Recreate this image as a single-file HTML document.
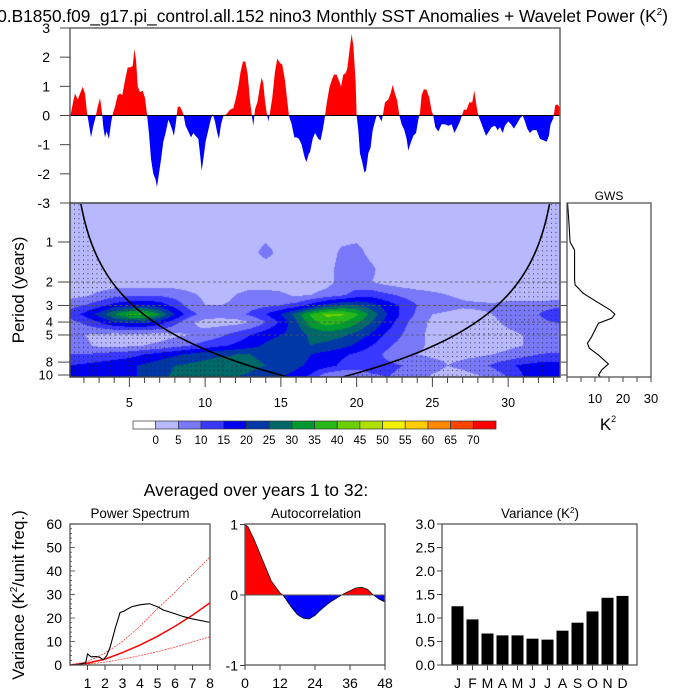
<!DOCTYPE html>
<html><head><meta charset="utf-8">
<style>
html,body{margin:0;padding:0;background:#fff;}
#wrap{position:relative;width:700px;height:700px;overflow:hidden;font-family:"Liberation Sans",sans-serif;}
#wv{position:absolute;left:70px;top:203px;}
#svg{position:absolute;left:0;top:0;}
text{font-family:"Liberation Sans",sans-serif;fill:#000;}
</style></head>
<body>
<div id="wrap">
<canvas id="wv" width="490" height="174"></canvas>
<svg id="svg" width="700" height="700" xmlns="http://www.w3.org/2000/svg">
<defs>
<pattern id="dots" width="4.5" height="4.6" patternUnits="userSpaceOnUse"><rect x="2" y="2" width="0.9" height="0.9" fill="#222"/></pattern>
<clipPath id="clipAbove"><rect x="70" y="20" width="490" height="95.5"/></clipPath>
<clipPath id="clipBelow"><rect x="70" y="115.5" width="490" height="95"/></clipPath>
<clipPath id="acAbove"><rect x="245" y="520" width="140" height="75"/></clipPath>
<clipPath id="acBelow"><rect x="245" y="595" width="140" height="75"/></clipPath>
<clipPath id="wvClip"><rect x="70" y="203" width="490" height="174"/></clipPath>
</defs>
<text x="668" y="22" font-size="17.3" text-anchor="end">0.B1850.f09_g17.pi_control.all.152 nino3 Monthly SST Anomalies + Wavelet Power (K<tspan font-size="10" dy="-7">2</tspan><tspan dy="7">)</tspan></text>
<g id="top"></g>
<g id="wav"></g>
<g id="gws"></g>
<g id="cbar"></g>
<text x="256" y="496" font-size="17.5" text-anchor="middle">Averaged over years 1 to 32:</text>
<g id="ps"></g>
<g id="ac"></g>
<g id="vr"></g>
</svg>
</div>
<script>
// ---------- DATA ----------
const sstYears = [1.08,1.15,1.30,1.41,1.59,1.74,1.92,2.07,2.20,2.33,2.47,2.62,2.77,2.91,3.06,3.17,3.28,3.39,3.50,3.65,3.79,3.90,4.05,4.23,4.38,4.53,4.71,4.89,5.06,5.22,5.33,5.44,5.55,5.70,5.88,6.03,6.16,6.29,6.43,6.58,6.73,6.82,6.95,7.09,7.24,7.39,7.57,7.70,7.83,7.94,8.08,8.19,8.34,8.49,8.58,8.71,8.89,9.07,9.22,9.37,9.55,9.68,9.77,9.88,10.03,10.21,10.39,10.50,10.65,10.80,10.91,11.05,11.20,11.42,11.64,11.86,12.01,12.19,12.34,12.50,12.65,12.81,12.96,13.07,13.18,13.29,13.47,13.62,13.73,13.84,13.95,14.06,14.17,14.28,14.43,14.61,14.76,14.94,15.09,15.27,15.42,15.53,15.71,15.89,16.04,16.19,16.37,16.55,16.68,16.85,16.92,17.10,17.25,17.47,17.62,17.76,17.89,18.02,18.20,18.35,18.50,18.68,18.83,18.97,19.12,19.27,19.38,19.52,19.67,19.78,19.93,20.00,20.11,20.22,20.37,20.51,20.62,20.77,20.92,21.06,21.21,21.32,21.43,21.54,21.65,21.76,21.87,22.09,22.24,22.38,22.53,22.68,22.82,22.97,23.15,23.30,23.41,23.56,23.74,23.92,24.07,24.18,24.29,24.44,24.62,24.80,24.95,25.06,25.19,25.39,25.61,25.83,26.05,26.27,26.45,26.60,26.82,26.95,27.08,27.26,27.44,27.63,27.77,27.92,28.03,28.18,28.36,28.54,28.73,28.91,29.13,29.31,29.46,29.64,29.79,30.01,30.19,30.38,30.56,30.78,30.96,31.11,31.26,31.44,31.62,31.88,32.10,32.32,32.54,32.69,32.80,32.98,33.11,33.24,33.38,33.45];
const sstAnom = [0,0.1,0.5,0.75,0.55,0.75,0.98,0.75,0.1,-0.3,-0.75,-0.35,-0.05,0.3,0.6,0.2,-0.4,-0.75,-0.55,-0.8,-0.25,0.05,0.3,0.7,0.75,0.7,1.2,1.65,1.65,1.7,2.27,1.9,1.0,0.8,0.85,0.6,0.05,-0.6,-1.5,-2.0,-2.2,-2.45,-2.0,-1.5,-0.9,-0.6,-0.15,-0.3,-0.5,-0.7,-0.2,0.3,0.3,0.15,0,-0.35,-0.55,-0.75,-0.6,-0.7,-0.8,-1.4,-1.9,-1.5,-0.9,-0.5,-0.1,0.05,-0.2,-0.6,-0.8,-0.3,-0.02,0.05,0.2,0.25,0.55,1.0,1.5,1.85,1.85,1.4,0.5,0.05,-0.35,0.2,0.5,1.0,1.3,1.1,0.5,0.1,-0.2,0.1,0.6,1.5,1.95,1.8,1.75,1.2,0.5,0,-0.3,-0.75,-0.75,-0.8,-1.0,-1.4,-1.6,-1.3,-1.26,-0.8,-0.6,-0.8,-0.85,-0.5,-0.1,0.4,0.95,1.2,1.4,1.4,1.2,1.0,1.4,1.45,1.6,2.2,2.8,2.4,1.2,0,-0.5,-1.3,-1.6,-1.95,-1.9,-1.3,-1.1,-0.5,-0.2,0.0,0.03,-0.1,-0.2,0.1,0.45,0.55,0.75,1.05,0.75,0.5,0,-0.3,-0.5,-0.8,-1.2,-0.95,-0.7,-0.6,-0.15,0.1,0.7,0.9,0.88,0.6,0.15,0,-0.4,-0.55,-0.3,-0.3,-0.35,-0.3,-0.6,-0.45,-0.2,0,0.2,0.2,0.45,0.45,0.85,0.3,0,-0.2,-0.45,-0.7,-0.55,-0.4,-0.35,-0.5,-0.4,-0.6,-0.35,-0.2,-0.3,-0.45,-0.3,-0.1,0,-0.2,-0.45,-0.6,-0.5,-0.5,-0.8,-0.85,-0.9,-0.7,-0.3,-0.1,0.35,0.38,0.3,0.3];
const topTicks = [3,2,1,0,-1,-2,-3];

const wvYears = [1,2,3,4,5,6,7,8,9,10,11,12,13,14,15,16,17,18,19,20,21,22,23,24,25,26,27,28,29,30,31,32,33,34];
const wvPeriods = [0.5,0.8,1.2,1.6,2.0,2.5,3.0,3.5,4.0,5.0,6.0,7.0,8.5,10.5];
const wvP05 = Array(34).fill(2);
const wvP08 = Array(34).fill(2);
const wvP12 = [2,2,2,2,2,2,2,2,2,2,2,2,3,7,3,2,2,2,6,7,3,2,2,2,2,2,2,2,2,2,2,2,2,2];
const wvP16 = [2,2,2,2,2,2,2,2,2,2,2,2,2,2,2,2,2,3,7,9,6,2,2,2,2,2,2,2,2,2,2,2,2,2];
const wvP20 = [2,2,2,2,2,2,2,2,2,2,2,2,2,2,2,2,2,3,7,7,5,3,2,2,2,2,2,2,2,2,2,2,2,2];
const wvP25 = [3,4,6,8,9,9,9,8,6,4,3,5,7,7,6,4,5,7,9,12,13,11,9,7,6,5,4,3,2,2,2,2,2,2];
const wvP30 = [8,10,13,17,19,20,18,13,8,5,5,6,8,9,10,12,17,22,25,25,22,18,14,10,8,7,6,6,6,7,7,7,8,9];
const wvP35 = [12,16,22,30,36,37,30,20,12,8,7,8,11,15,20,27,36,41,41,36,28,20,14,9,5,4,3,4,5,7,8,10,14,16];
const wvP40 = [8,11,15,20,22,22,18,12,6,3,3,3,5,10,16,24,33,38,36,31,25,18,12,7,4,3,3,3,4,6,7,8,10,11];
const wvP50 = [6,5,4,3,3,3,3,4,5,7,9,12,15,18,20,22,26,27,26,23,19,14,10,6,4,3,3,3,3,4,5,6,7,7];
const wvP60 = [7,6,4,4,4,5,6,8,10,12,14,16,18,21,23,24,25,24,22,19,15,11,8,6,4,3,3,3,3,4,5,6,6,6];
const wvP70 = [10,10,11,12,13,15,17,19,21,23,24,25,25,24,23,22,20,18,16,14,12,9,7,5,4,4,4,4,5,6,8,10,11,11];
const wvP85 = [15,16,17,18,19,21,23,25,26,27,28,27,26,25,23,21,19,17,14,12,12,11,10,9,7,5,6,8,11,14,16,17,17,17];
const wvP105 = [18,18,18,18,19,21,24,26,27,27,26,25,24,22,20,18,13,5,4,6,9,10,9,7,4,3,3,4,6,10,15,17,17,17];
const wvRows = [wvP05,wvP08,wvP12,wvP16,wvP20,wvP25,wvP30,wvP35,wvP40,wvP50,wvP60,wvP70,wvP85,wvP105];
const cbarLabels = [0,5,10,15,20,25,30,35,40,45,50,55,60,65,70];

const gwsPeriods = [0.51,0.72,1.0,1.15,1.93,2.1,2.43,2.81,3.24,3.49,3.74,4.09,4.59,5.15,5.78,6.3,7.07,8.26,9.15,10.0,10.3];
const gwsPower = [0.2,0.7,1.1,2.7,2.7,2.9,5.8,10.6,15.4,17.1,16,11.2,10,8.8,7.3,8,11.2,14.8,12.4,11.3,11.8];

const psFreq = [0,0.5,0.9,1.0,1.2,1.5,1.7,1.9,2.1,2.3,2.6,2.86,3.1,3.52,4.0,4.53,5.0,5.33,6.0,6.48,7.0,7.97,8];
const psPower = [0,0.2,1,4.7,3.5,3.6,3.3,2.2,4,7.8,16,22.3,23,24.8,25.6,26.1,24.8,23.4,21.8,20.6,19.6,18.2,18.1];
const psRedX = [0,1,2,3,4,5,6,7,8];
const psRed = [0,0.8,2.5,5.3,8.5,12.2,16.5,21.2,26.5];
const psRedHi = [0,1.5,5,10,16.5,24,31,38.5,46];
const psRedLo = [0,0.4,1.2,2.5,4,5.7,7.6,9.8,12];
const psYTicks = [0,10,20,30,40,50,60];
const psXTicks = [1,2,3,4,5,6,7,8];

const acLags = [0,1,3,6,9,12,13,16,18,20,22,24,26,28,30,32,34,36,38,40,42,44,46,48];
const acVals = [1,0.97,0.8,0.5,0.2,0.03,0,-0.18,-0.28,-0.33,-0.34,-0.29,-0.21,-0.14,-0.08,-0.03,0.02,0.06,0.1,0.11,0.08,0,-0.06,-0.1];
const acXTicks = [0,12,24,36,48];
const acYTicks = [1,0,-1];

const months = ["J","F","M","A","M","J","J","A","S","O","N","D"];
const monthVar = [1.25,0.97,0.67,0.63,0.63,0.56,0.54,0.73,0.9,1.14,1.43,1.47];
const varTicks = ["0.0","0.5","1.0","1.5","2.0","2.5","3.0"];

const levelColors = ["#ffffff","#b8b8ff","#7878f8","#3838ff","#0000f0","#0038a8","#006868","#009830","#28b818","#6cd000","#b0e000","#f0f000","#ffcc00","#ff8800","#ff4400","#ff0000"];

// ---------- HELPERS ----------
const NS="http://www.w3.org/2000/svg";
function mk(parent,tag,attrs){const e=document.createElementNS(NS,tag);for(const k in attrs)e.setAttribute(k,attrs[k]);parent.appendChild(e);return e;}
function txt(parent,x,y,s,size,anchor){const t=mk(parent,"text",{x:x,y:y,"font-size":size,"text-anchor":anchor||"middle"});t.textContent=s;return t;}
const AX="#444";

// ---------- TOP SERIES ----------
const tx=t=>70+(t-1.08)*15.15;
const ty=v=>115.5-v*29.17;
(function(){
 const g=document.getElementById("top");
 let d="M"+tx(sstYears[0])+","+ty(0);
 for(let i=0;i<sstYears.length;i++) d+=" L"+tx(sstYears[i]).toFixed(2)+","+ty(sstAnom[i]).toFixed(2);
 d+=" L"+tx(sstYears[sstYears.length-1])+","+ty(0)+" Z";
 const r=mk(g,"path",{d:d,fill:"#ff0000","clip-path":"url(#clipAbove)"});
 
 
 const b=mk(g,"path",{d:d,fill:"#0000ff","clip-path":"url(#clipBelow)"});
 
 
 const z=mk(g,"line",{x1:70,x2:560,y1:ty(0),y2:ty(0),stroke:"#000","stroke-width":1});
 
 
 const box=mk(g,"path",{d:"M70,203 L70,28 L560,28 L560,203",fill:"none",stroke:"#666","stroke-width":1.5});
 
 
 topTicks.forEach(v=>{
  mk(g,"line",{x1:60,x2:70,y1:ty(v),y2:ty(v),stroke:AX,"stroke-width":1});
  const t=txt(g,50,ty(v)+5,String(v),14,"end");
  
  
 });
})();

// ---------- WAVELET ----------
const wy=p=>242+133*Math.log10(p);
const wx=t=>70+(t-1.08)*15.15;
(function(){
 const c=document.getElementById("wv").getContext("2d");
 const img=c.createImageData(490,174);
 const rowsLog=wvPeriods.map(p=>Math.log10(p));
 const rgb=levelColors.map(h=>[parseInt(h.substr(1,2),16),parseInt(h.substr(3,2),16),parseInt(h.substr(5,2),16)]);
 for(let py=0;py<174;py++){
  const lp=((203+py+0.5)-242)/133;
  let r=0;while(r<rowsLog.length-2&&rowsLog[r+1]<lp)r++;
  let fr=(lp-rowsLog[r])/(rowsLog[r+1]-rowsLog[r]);fr=Math.max(0,Math.min(1,fr));
  for(let px=0;px<490;px++){
   const yr=1.08+(px+0.5)/15.15;
   let ci=yr-wvYears[0];ci=Math.max(0,Math.min(wvYears.length-1.0001,ci));
   const c0=Math.floor(ci),fc=ci-c0;
   const v00=wvRows[r][c0],v01=wvRows[r][c0+1],v10=wvRows[r+1][c0],v11=wvRows[r+1][c0+1];
   const v=(v00*(1-fc)+v01*fc)*(1-fr)+(v10*(1-fc)+v11*fc)*fr;
   let lv=v<0?0:Math.min(15,Math.floor(v/5)+1);
   const k=(py*490+px)*4,col=rgb[lv];
   img.data[k]=col[0];img.data[k+1]=col[1];img.data[k+2]=col[2];img.data[k+3]=255;
  }
 }
 c.putImageData(img,0,0);

 const g=document.getElementById("wav");
 const coi=t=>0.72*Math.min(t-1.08,33.45-t);
 let pts=[];
 for(let t=1.08;t<=33.45+1e-6;t+=0.05){let p=coi(t);let y=p<=0.01?203:wy(p);y=Math.max(203,Math.min(377,y));pts.push([wx(t),y]);}
 let d="M70,203 L560,203 L560,377 L70,377 Z M"+pts.map(p=>p[0].toFixed(2)+","+p[1].toFixed(2)).join(" L")+" Z";
 const st=mk(g,"path",{d:d,fill:"url(#dots)","fill-rule":"evenodd","clip-path":"url(#wvClip)"});
 
 
 [2,3,4,5].forEach(p=>{
  const l=mk(g,"line",{x1:70,x2:560,y1:wy(p),y2:wy(p),stroke:"#555","stroke-width":0.8,"stroke-dasharray":"3,2.5"});
  
  
 });
 let cd="",on=false;
 for(let t=1.08;t<=33.45+1e-6;t+=0.03){const p=coi(t);const y=p>0.01?wy(p):0;
  if(p>0.01&&y>=203&&y<=377){cd+=(on?" L":" M")+wx(t).toFixed(2)+","+y.toFixed(2);on=true;}else on=false;}
 const cl=mk(g,"path",{d:cd,fill:"none",stroke:"#000","stroke-width":1.6});
 
 
 const fr=mk(g,"rect",{x:70,y:203,width:490,height:174,fill:"none",stroke:"#444","stroke-width":1.5});
 
 
 [1,2,3,4,5,8,10].forEach(p=>{
  mk(g,"line",{x1:58,x2:70,y1:wy(p),y2:wy(p),stroke:AX,"stroke-width":1});
  const t=txt(g,53,wy(p)+4.5,String(p),13,"end");
  
  
 });
 for(let yr=2;yr<=33;yr++){
  const major=yr%5===0;
  mk(g,"line",{x1:wx(yr),x2:wx(yr),y1:377,y2:major?387:383,stroke:AX,"stroke-width":1});
  if(major){const t=txt(g,wx(yr),407,String(yr),12.5,"middle");
   
   }
 }
 const yl=mk(g,"text",{x:0,y:0,"font-size":17,"text-anchor":"middle",transform:"translate(24,290) rotate(-90)"});
 yl.textContent="Period (years)";
 
 
})();

// ---------- GWS ----------
(function(){
 const g=document.getElementById("gws");
 const gx=v=>567+v*2.8;
 let d=gwsPeriods.map((p,i)=>(i?"L":"M")+gx(gwsPower[i]).toFixed(2)+","+Math.min(377,wy(p)).toFixed(2)).join(" ");
 const l=mk(g,"path",{d:d,fill:"none",stroke:"#000","stroke-width":1.1});
 
 
 const fr=mk(g,"rect",{x:567,y:203,width:84,height:174,fill:"none",stroke:"#555","stroke-width":1.3});
 
 
 [1,2,3,4,5,8,10].forEach(p=>mk(g,"line",{x1:561,x2:567,y1:wy(p),y2:wy(p),stroke:AX}));
 for(let v=0;v<=30;v+=5)mk(g,"line",{x1:gx(v),x2:gx(v),y1:377,y2:382,stroke:AX});
 [10,20,30].forEach(v=>{const t=txt(g,gx(v),403,String(v),13,"middle");
  
  });
 const tt=txt(g,609,200,"GWS",12,"middle");
 
 
 const k=mk(g,"text",{x:608,y:430,"font-size":17,"text-anchor":"middle"});
 k.innerHTML='K<tspan font-size="9" dy="-8">2</tspan>';
 
 
})();

// ---------- COLORBAR ----------
(function(){
 const g=document.getElementById("cbar");
 const w=363/levelColors.length;
 levelColors.forEach((c,i)=>{
  const r=mk(g,"rect",{x:133+i*w,y:421,width:w,height:8,fill:c,stroke:"#333","stroke-width":0.7});
  
  
 });
 cbarLabels.forEach((v,i)=>{const t=txt(g,133+(i+1)*w,444,String(v),11.5,"middle");
  
  });
})();

// ---------- POWER SPECTRUM ----------
(function(){
 const g=document.getElementById("ps");
 const px=f=>70+f*17.5, py=v=>665-v*2.35;
 const line=(xs,ys,attrs,name)=>{const d=xs.map((x,i)=>(i?"L":"M")+px(x).toFixed(2)+","+py(ys[i]).toFixed(2)).join(" ");
  const p=mk(g,"path",Object.assign({d:d,fill:"none"},attrs));};
 line(psRedX,psRedHi,{stroke:"#ff4040","stroke-width":0.8,"stroke-dasharray":"2,1"},"ps-red-noise-upper");
 line(psRedX,psRedLo,{stroke:"#ff4040","stroke-width":0.8,"stroke-dasharray":"2,1"},"ps-red-noise-lower");
 line(psRedX,psRed,{stroke:"#ff0000","stroke-width":1.5},"ps-red-noise");
 line(psFreq,psPower,{stroke:"#000","stroke-width":1.1},"ps-spectrum-line");
 const fr=mk(g,"rect",{x:70,y:524,width:140,height:141,fill:"none",stroke:"#555","stroke-width":1.3});
 
 
 for(let v=0;v<=60;v+=2)mk(g,"line",{x1:70,x2:v%10===0?75:72,y1:py(v),y2:py(v),stroke:AX,"stroke-width":0.8});
 psYTicks.forEach(v=>{const t=txt(g,62,py(v)+5,String(v),14,"end");
  });
 psXTicks.forEach(v=>{mk(g,"line",{x1:px(v),x2:px(v),y1:665,y2:670,stroke:AX});
  const t=txt(g,px(v),688,String(v),14,"middle");
  });
 const tt=txt(g,140,518,"Power Spectrum",13.4,"middle");
 
 const yl=mk(g,"text",{x:0,y:0,"font-size":17,"text-anchor":"middle",transform:"translate(24,595) rotate(-90)"});
 yl.innerHTML='Variance (K<tspan font-size="10" dy="-7">2</tspan><tspan dy="7">/unit freq.)</tspan>';
 
})();

// ---------- AUTOCORRELATION ----------
(function(){
 const g=document.getElementById("ac");
 const ax=l=>245+l*140/48, ay=v=>595-v*70.5;
 let d="M"+ax(0)+","+ay(0)+" "+acLags.map((l,i)=>"L"+ax(l).toFixed(2)+","+ay(acVals[i]).toFixed(2)).join(" ")+" L"+ax(48)+","+ay(0)+" Z";
 const r=mk(g,"path",{d:d,fill:"#ff0000","clip-path":"url(#acAbove)"});
 
 const b=mk(g,"path",{d:d,fill:"#0000ff","clip-path":"url(#acBelow)"});
 
 const ln=mk(g,"path",{d:acLags.map((l,i)=>(i?"L":"M")+ax(l).toFixed(2)+","+ay(acVals[i]).toFixed(2)).join(" "),fill:"none",stroke:"#000","stroke-width":0.7});
 
 mk(g,"line",{x1:245,x2:385,y1:ay(0),y2:ay(0),stroke:"#555","stroke-width":1});
 const fr=mk(g,"rect",{x:245,y:524,width:140,height:141,fill:"none",stroke:"#555","stroke-width":1.3});
 
 acYTicks.forEach(v=>{mk(g,"line",{x1:240,x2:245,y1:ay(v),y2:ay(v),stroke:AX});
  const t=txt(g,238,ay(v)+5,String(v),14,"end");
  });
 acXTicks.forEach(v=>{mk(g,"line",{x1:ax(v),x2:ax(v),y1:665,y2:670,stroke:AX});
  const t=txt(g,ax(v),688,String(v),14,"middle");
  });
 const tt=txt(g,316,518,"Autocorrelation",13.4,"middle");
 
})();

// ---------- MONTHLY VARIANCE ----------
(function(){
 const g=document.getElementById("vr");
 const bx=i=>457.5+i*15, by=v=>665-v*47;
 monthVar.forEach((v,i)=>{
  const r=mk(g,"rect",{x:bx(i)-6,y:by(v),width:12,height:by(0)-by(v),fill:"#000"});
  
  
  mk(g,"line",{x1:bx(i),x2:bx(i),y1:665,y2:670,stroke:AX});
  const t=txt(g,bx(i),688,months[i],14,"middle");
  
 });
 const fr=mk(g,"rect",{x:442,y:524,width:195,height:141,fill:"none",stroke:"#555","stroke-width":1.3});
 
 varTicks.forEach(s=>{const v=parseFloat(s);mk(g,"line",{x1:437,x2:442,y1:by(v),y2:by(v),stroke:AX});
  const t=txt(g,435,by(v)+5,s,14,"end");
  });
 const tt=mk(g,"text",{x:540,y:518,"font-size":13.4,"text-anchor":"middle"});
 tt.innerHTML='Variance (K<tspan font-size="8" dy="-5">2</tspan><tspan dy="5">)</tspan>';
 
})();
</script>
</body></html>
